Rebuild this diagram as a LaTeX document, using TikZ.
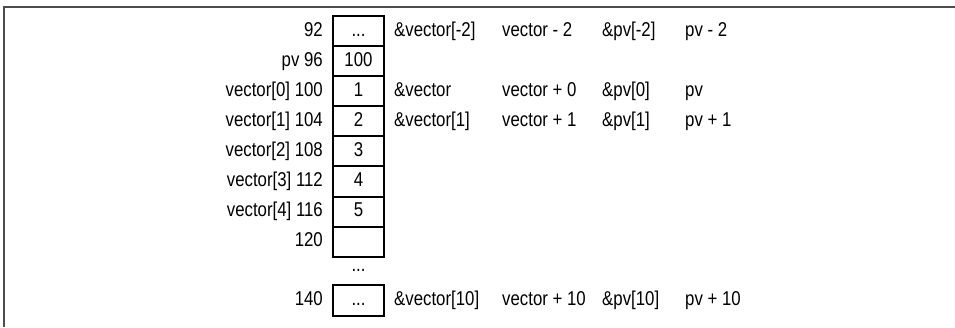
\documentclass[tikz,border=0pt]{standalone}
\usepackage{fontspec}
\setmainfont[FakeStretch=0.84]{Liberation Sans}
\usetikzlibrary{positioning}

\tikzset{
  cell/.style={draw, line width=2pt, minimum width=51pt, minimum height=30.1pt,
    inner sep=0pt, outer sep=0pt, text height=14pt, text depth=4pt},
  lbl/.style={inner sep=0pt, text height=14pt, text depth=4pt},
  col/.style={lbl, anchor=west},
}

\begin{document}
\begin{tikzpicture}[x=1pt, y=-1pt, font=\fontsize{20}{22}\selectfont]
    \useasboundingbox (0,0) rectangle (955,327);

    % Frame
    \draw[line width=1.5pt, black!70] (4,327) -- (4,7) -- (955,7);

    % Memory cells
    \node[cell] (c92) at (358.5,31) {...};
    \node[cell, below=0pt of c92] (c96) {100};
    \node[cell, below=0pt of c96] (c100) {1};
    \node[cell, below=0pt of c100] (c104) {2};
    \node[cell, below=0pt of c104] (c108) {3};
    \node[cell, below=0pt of c108] (c112) {4};
    \node[cell, below=0pt of c112] (c116) {5};
    \node[cell, below=0pt of c116] (c120) {};
    \node[lbl] (gap) at (358.5,266) {...};
    \node[cell] (c140) at (358.5,300.5) {...};

    % Addresses
    \node[lbl, left=10pt of c92] (a92) {92};
    \node[lbl, left=10pt of c96] (a96) {pv 96};
    \node[lbl, left=10pt of c100] (a100) {vector[0] 100};
    \node[lbl, left=10pt of c104] (a104) {vector[1] 104};
    \node[lbl, left=10pt of c108] (a108) {vector[2] 108};
    \node[lbl, left=10pt of c112] (a112) {vector[3] 112};
    \node[lbl, left=10pt of c116] (a116) {vector[4] 116};
    \node[lbl, left=10pt of c120] (a120) {120};
    \node[lbl, left=10pt of c140] (a140) {140};

    % Ways to write the address
    \node[lbl, right=10pt of c92] (r92) {\&vector[-2]};
    \node[col] (v92) at (502,31) {vector - 2};
    \node[col] (p92) at (602,31) {\&pv[-2]};
    \node[col] (q92) at (685,31) {pv - 2};

    \node[lbl, right=10pt of c100] (r100) {\&vector};
    \node[col] (v100) at (502,91.2) {vector + 0};
    \node[col] (p100) at (602,91.2) {\&pv[0]};
    \node[col] (q100) at (685,91.2) {pv};

    \node[lbl, right=10pt of c104] (r104) {\&vector[1]};
    \node[col] (v104) at (502,121.3) {vector + 1};
    \node[col] (p104) at (602,121.3) {\&pv[1]};
    \node[col] (q104) at (685,121.3) {pv + 1};

    \node[lbl, right=10pt of c140] (r140) {\&vector[10]};
    \node[col] (v140) at (502,300.5) {vector + 10};
    \node[col] (p140) at (602,300.5) {\&pv[10]};
    \node[col] (q140) at (685,300.5) {pv + 10};
\end{tikzpicture}
\end{document}
